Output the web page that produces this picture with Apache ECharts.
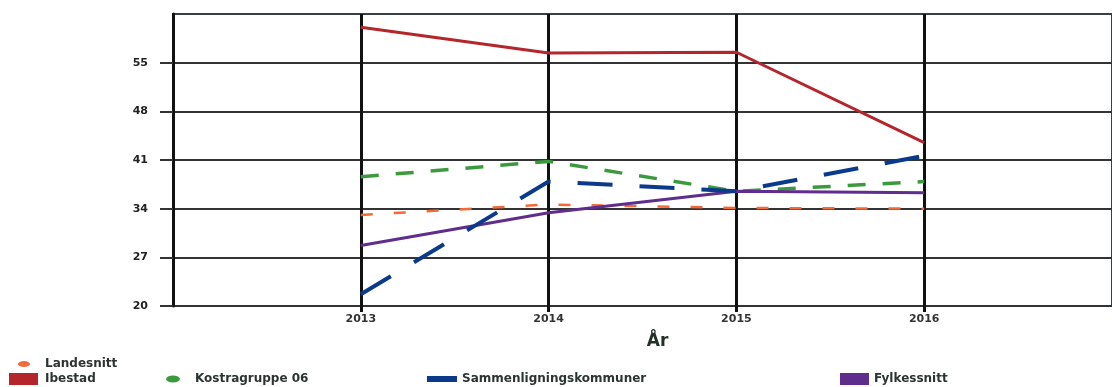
<!DOCTYPE html>
<html>
<head>
<meta charset="utf-8">
<script src="https://cdn.jsdelivr.net/npm/echarts@6/dist/echarts.min.js"></script>
<style>
html,body{margin:0;padding:0;background:#fff;}
#c{width:1112px;height:387px;}
</style>
</head>
<body>
<div id="c"></div>
<script>
const years = [2013, 2014, 2015, 2016];
const yTicks = [20, 27, 34, 41, 48, 55];
const landesnitt = [33.1, 34.6, 34.1, 34.0];
const ibestad = [60.1, 56.4, 56.5, 43.5];
const kostra = [38.6, 40.8, 36.5, 37.9];
const sammen = [21.7, 37.9, 36.5, 41.6];
const fylke = [28.7, 33.4, 36.5, 36.3];
const names = ['Landesnitt', 'Ibestad', 'Kostragruppe 06', 'Sammenligningskommuner', 'Fylkessnitt'];
const axisName = 'År';

const colors = {
  'Landesnitt': '#f4683a',
  'Ibestad': '#b5262c',
  'Kostragruppe 06': '#3b9a3e',
  'Sammenligningskommuner': '#0c3a8a',
  'Fylkessnitt': '#5f2d8c'
};
const pts = arr => arr.map((v, i) => [years[i], v]);
const font = 'DejaVu Sans';
const textColor = '#2b3430';
const ellipse = 'path://M0,5 A10,5 0 1,0 20,5 A10,5 0 1,0 0,5 Z';

function leg(name, left, top, icon, w, h, padLeft) {
  return {
    data: [{ name: name, icon: icon }],
    left: left, top: top, orient: 'horizontal',
    itemWidth: w, itemHeight: h, padding: 0,
    selectedMode: false,
    textStyle: { fontFamily: font, fontWeight: 'bold', fontSize: 12, color: textColor, padding: [0, 0, 0, padLeft] }
  };
}

const chart = echarts.init(document.getElementById('c'), null, { renderer: 'canvas' });
chart.setOption({
  animation: false,
  backgroundColor: '#fff',
  grid: { left: 173, top: 14, bottom: 81, right: -13, containLabel: false, show: true, borderColor: '#3a3f44', borderWidth: 2, backgroundColor: '#fff' },
  xAxis: {
    type: 'value', min: 2012, max: 2017, interval: 1,
    name: axisName, nameLocation: 'middle', nameGap: 27,
    nameTextStyle: { fontFamily: font, fontWeight: 'bold', fontSize: 17, color: '#223028', padding: [0, 0, 0, 30] },
    axisLine: { show: false },
    axisTick: { show: true, customValues: years, length: 6, lineStyle: { color: '#111', width: 3 } },
    axisLabel: { customValues: years, formatter: v => String(v), margin: 8, fontFamily: font, fontWeight: 'bold', fontSize: 11, color: '#333' },
    splitLine: { show: true, lineStyle: { color: '#111', width: 3 } }
  },
  yAxis: {
    type: 'value', min: 20, max: 62, interval: 7,
    axisLine: { show: true, lineStyle: { color: '#111', width: 3 } },
    axisTick: { show: true, customValues: yTicks, length: 13, lineStyle: { color: '#333', width: 2 } },
    axisLabel: { customValues: yTicks, margin: 25, fontFamily: font, fontWeight: 'bold', fontSize: 11, color: '#222' },
    splitLine: { show: true, lineStyle: { color: '#333', width: 2 } }
  },
  legend: [
    leg('Landesnitt', 18, 358, ellipse, 12, 6, 10),
    leg('Ibestad', 9, 373, 'rect', 29, 12, 2),
    leg('Kostragruppe 06', 166, 373, ellipse, 14, 7, 10),
    leg('Sammenligningskommuner', 427, 373, 'rect', 30, 6, 0),
    leg('Fylkessnitt', 840, 373, 'rect', 29, 12, 0)
  ],
  series: [
    { name: 'Ibestad', type: 'line', data: pts(ibestad), showSymbol: false, color: colors['Ibestad'], lineStyle: { width: 3, color: colors['Ibestad'] } },
    { name: 'Kostragruppe 06', type: 'line', data: pts(kostra), showSymbol: false, color: colors['Kostragruppe 06'], lineStyle: { width: 3.5, type: [18, 17], color: colors['Kostragruppe 06'] } },
    { name: 'Landesnitt', type: 'line', data: pts(landesnitt), showSymbol: false, color: colors['Landesnitt'], lineStyle: { width: 2.5, type: [12, 21], color: colors['Landesnitt'] } },
    { name: 'Fylkessnitt', type: 'line', data: pts(fylke), showSymbol: false, color: colors['Fylkessnitt'], lineStyle: { width: 3, color: colors['Fylkessnitt'] } },
    { name: 'Sammenligningskommuner', type: 'line', data: pts(sammen), showSymbol: false, color: colors['Sammenligningskommuner'], lineStyle: { width: 4, type: [35, 27], color: colors['Sammenligningskommuner'] } }
  ]
});
</script>
</body>
</html>
